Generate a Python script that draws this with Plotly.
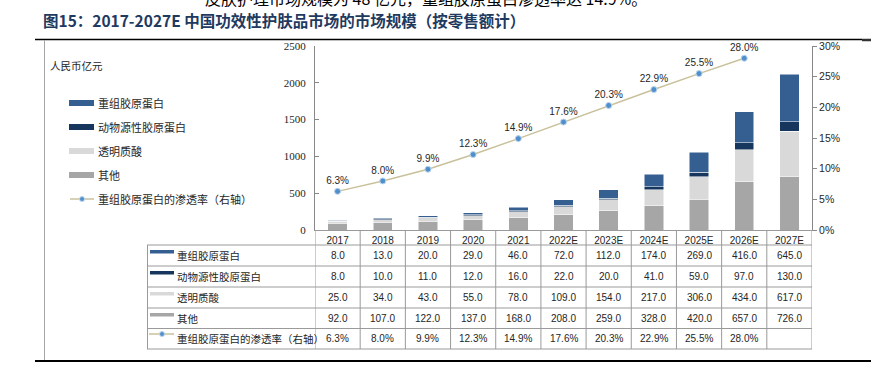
import plotly.graph_objects as go

categories = ["2017", "2018", "2019", "2020", "2021", "2022E", "2023E", "2024E", "2025E", "2026E", "2027E"]
recombinant = [8.0, 13.0, 20.0, 29.0, 46.0, 72.0, 112.0, 174.0, 269.0, 416.0, 645.0]
animal = [8.0, 10.0, 11.0, 12.0, 16.0, 22.0, 20.0, 41.0, 59.0, 97.0, 130.0]
hyaluronic = [25.0, 34.0, 43.0, 55.0, 78.0, 109.0, 154.0, 217.0, 306.0, 434.0, 617.0]
others = [92.0, 107.0, 122.0, 137.0, 168.0, 208.0, 259.0, 328.0, 420.0, 657.0, 726.0]
penetration = [6.3, 8.0, 9.9, 12.3, 14.9, 17.6, 20.3, 22.9, 25.5, 28.0, None]

names = ["重组胶原蛋白", "动物源性胶原蛋白", "透明质酸", "其他", "重组胶原蛋白的渗透率（右轴）"]
colors = ["#365f91", "#17365d", "#d9d9d9", "#a6a6a6"]
line_color = "#c9c19b"
dot_color = "#4f8fcc"

title_text = "图15：2017-2027E 中国功效性护肤品市场的市场规模（按零售额计）"
top_text = "皮肤护理市场规模为 48 亿元，重组胶原蛋白渗透率达 14.9%。"

W, H = 878, 378
L, R, T, B = 315, 812, 46, 230


def px_x(p):
    return (p - L) / (R - L)


def px_y(p):
    return (B - p) / (B - T)


CJK = "Noto Sans CJK SC"
ARIAL = "Liberation Sans"
TXT = "#262626"
GRID = "#9a9a9a"

fig = go.Figure()
stack = [(names[3], others, colors[3]), (names[2], hyaluronic, colors[2]),
         (names[1], animal, colors[1]), (names[0], recombinant, colors[0])]
for nm, vals, c in stack:
    fig.add_trace(go.Bar(x=categories, y=vals, name=nm, marker=dict(color=c, line=dict(color="white", width=0.5)),
                         width=0.43, showlegend=False))

fig.add_trace(go.Scatter(x=categories, y=[v / 100 if v is not None else None for v in penetration],
                         yaxis="y2", mode="lines+markers+text",
                         text=[f"{v:.1f}%" if v is not None else "" for v in penetration],
                         textposition="top center", textfont=dict(family=ARIAL, size=10, color=TXT),
                         line=dict(color=line_color, width=1.5),
                         marker=dict(color=dot_color, size=6, line=dict(color="#bcd4ec", width=1)),
                         showlegend=False, cliponaxis=False))

shapes = []
ann = []

# frame lines
shapes.append(dict(type="line", xref="paper", yref="paper", x0=px_x(35), x1=px_x(862), y0=px_y(39.5), y1=px_y(39.5),
                   line=dict(color="#000000", width=1.5)))
shapes.append(dict(type="line", xref="paper", yref="paper", x0=px_x(862), x1=px_x(871), y0=px_y(40), y1=px_y(40),
                   line=dict(color="#333333", width=2.5)))
shapes.append(dict(type="line", xref="paper", yref="paper", x0=px_x(35), x1=px_x(871), y0=px_y(361), y1=px_y(361),
                   line=dict(color="#000000", width=2)))
shapes.append(dict(type="line", xref="paper", yref="paper", x0=px_x(44.5), x1=px_x(44.5), y0=px_y(40), y1=px_y(360),
                   line=dict(color="#a6a6a6", width=1)))

# table
row_edges = [245, 266, 287, 308, 328.5, 349]
for ry in row_edges:
    shapes.append(dict(type="line", xref="paper", yref="paper", x0=px_x(147), x1=1, y0=px_y(ry), y1=px_y(ry),
                       line=dict(color=GRID, width=1)))
shapes.append(dict(type="line", xref="paper", yref="paper", x0=px_x(147.5), x1=px_x(147.5), y0=px_y(245), y1=px_y(349),
                   line=dict(color=GRID, width=1)))
for i in range(len(categories) + 1):
    shapes.append(dict(type="line", xref="x", yref="paper", x0=i - 0.5, x1=i - 0.5, y0=0, y1=px_y(349),
                       line=dict(color=GRID, width=1)))


def dot(cx, cy, r=2.8):
    return dict(type="circle", xref="paper", yref="paper", x0=px_x(cx - r), x1=px_x(cx + r),
                y0=px_y(cy + r), y1=px_y(cy - r), fillcolor=dot_color, line=dict(color="#bcd4ec", width=1))


row_order = [(names[0], recombinant, colors[0]), (names[1], animal, colors[1]),
             (names[2], hyaluronic, colors[2]), (names[3], others, colors[3])]
for r, (nm, vals, c) in enumerate(row_order):
    top = row_edges[r]
    cy = (row_edges[r] + row_edges[r + 1]) / 2
    shapes.append(dict(type="rect", xref="paper", yref="paper", x0=px_x(150), x1=px_x(174),
                       y0=px_y(top + 5), y1=px_y(top + 8.5), fillcolor=c, line=dict(width=0)))
    ann.append(dict(xref="paper", yref="paper", x=px_x(175), y=px_y(cy), text=nm, showarrow=False,
                    xanchor="left", yanchor="middle", font=dict(family=CJK, size=10.5, color=TXT)))
    for i, v in enumerate(vals):
        ann.append(dict(xref="x", yref="paper", x=i, y=px_y(cy), text=f"{v:.1f}", showarrow=False,
                        xanchor="center", yanchor="middle", font=dict(family=ARIAL, size=10, color=TXT)))
# penetration row
top = row_edges[4]
cy = (row_edges[4] + row_edges[5]) / 2
shapes.append(dict(type="line", xref="paper", yref="paper", x0=px_x(149), x1=px_x(174),
                   y0=px_y(top + 5.5), y1=px_y(top + 5.5), line=dict(color=line_color, width=1.5)))
shapes.append(dot(162, top + 5.5, 2.5))
ann.append(dict(xref="paper", yref="paper", x=px_x(175), y=px_y(cy), text=names[4], showarrow=False,
                xanchor="left", yanchor="middle", font=dict(family=CJK, size=10.5, color=TXT)))
for i, v in enumerate(penetration):
    if v is not None:
        ann.append(dict(xref="x", yref="paper", x=i, y=px_y(cy), text=f"{v:.1f}%", showarrow=False,
                        xanchor="center", yanchor="middle", font=dict(family=ARIAL, size=10, color=TXT)))

# left legend
leg_y = [103, 127, 151, 175]
for (nm, vals, c), ly in zip(row_order, leg_y):
    shapes.append(dict(type="rect", xref="paper", yref="paper", x0=px_x(69), x1=px_x(94),
                       y0=px_y(ly + 3), y1=px_y(ly - 3), fillcolor=c, line=dict(width=0)))
    ann.append(dict(xref="paper", yref="paper", x=px_x(96), y=px_y(ly), text=nm, showarrow=False,
                    xanchor="left", yanchor="middle", font=dict(family=CJK, size=11, color=TXT)))
shapes.append(dict(type="line", xref="paper", yref="paper", x0=px_x(70), x1=px_x(94), y0=px_y(199), y1=px_y(199),
                   line=dict(color=line_color, width=1.5)))
shapes.append(dot(82, 199, 2.5))
ann.append(dict(xref="paper", yref="paper", x=px_x(96), y=px_y(199), text=names[4], showarrow=False,
                xanchor="left", yanchor="middle", font=dict(family=CJK, size=11, color=TXT)))

# unit label
ann.append(dict(xref="paper", yref="paper", x=px_x(48), y=px_y(65), text="人民币亿元", showarrow=False,
                xanchor="left", yanchor="middle", font=dict(family=CJK, size=10.5, color=TXT)))

# title
ann.append(dict(xref="paper", yref="paper", x=px_x(41), y=px_y(20), text="<b>" + title_text + "</b>", showarrow=False,
                xanchor="left", yanchor="middle", font=dict(family=CJK, size=15.5, color="#1f3a60")))
# clipped text at very top (continuation of the page body text)
ann.append(dict(xref="paper", yref="paper", x=px_x(203), y=px_y(-2), text=top_text, showarrow=False,
                xanchor="left", yanchor="middle", font=dict(family=CJK, size=16, color="#000000")))

fig.update_layout(
    width=W, height=H, autosize=False,
    margin=dict(l=L, r=W - R, t=T, b=H - B, pad=0),
    paper_bgcolor="white", plot_bgcolor="white",
    barmode="stack", bargap=0.57,
    showlegend=False,
    xaxis=dict(type="category", categoryorder="array", categoryarray=categories, range=[-0.5, 10.5],
               showline=True, linecolor=GRID, linewidth=1, ticks="", showgrid=False, zeroline=False,
               tickfont=dict(family=ARIAL, size=10, color=TXT), ticklabelstandoff=1),
    yaxis=dict(range=[0, 2500], dtick=500, showline=True, linecolor="#888888", linewidth=1, ticks="inside",
               ticklen=4, tickcolor="#888888", showgrid=False, zeroline=False,
               tickfont=dict(family="Liberation Serif", size=11, color=TXT), ticklabelstandoff=6),
    yaxis2=dict(range=[0, 0.30], dtick=0.05, tickformat=".0%", overlaying="y", side="right", anchor="x",
                showline=True, linecolor="#888888", linewidth=1, ticks="outside", ticklen=4, tickcolor="#888888",
                showgrid=False, zeroline=False, tickfont=dict(family=ARIAL, size=10.5, color=TXT)),
    shapes=shapes,
    annotations=ann,
)

fig.write_html("out.html", config={"displayModeBar": False},
               post_script="document.body.style.margin='0px';document.body.style.overflow='hidden';")
